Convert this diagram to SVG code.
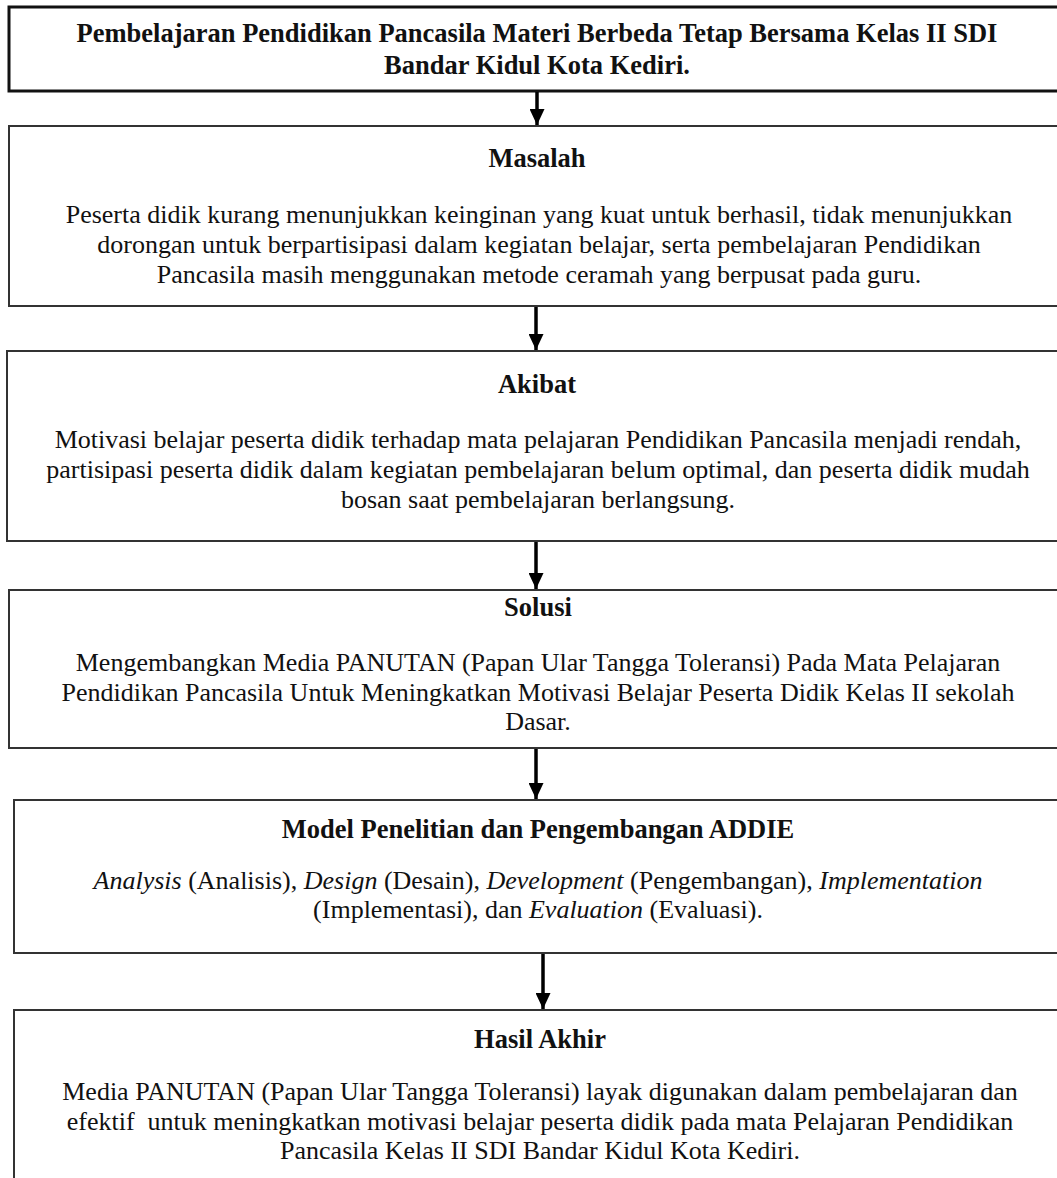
<svg xmlns="http://www.w3.org/2000/svg" width="1057" height="1178" viewBox="0 0 1057 1178">
<style>
.box{fill:#fff;stroke:#333;stroke-width:2}
.top{fill:#fff;stroke:#111;stroke-width:3}
.t{font-family:"Liberation Serif","Times New Roman",serif;font-size:26px;fill:#111;text-anchor:middle}
.b{font-weight:bold;font-size:26.5px}
.c{stroke:#000;stroke-width:3.5;fill:none}
</style>
<defs>
<marker id="ah" markerWidth="16" markerHeight="15" refX="16" refY="7.5" viewBox="0 0 16 15" markerUnits="userSpaceOnUse" orient="auto">
<path d="M0,0 L16,7.5 L0,15 Z" fill="#000"/>
</marker>
</defs>
<rect width="1057" height="1178" fill="#fff"/>
<g id="judul">
<rect class="top" x="9" y="7" width="1070" height="84"/>
<text class="t b" x="537" y="42">Pembelajaran Pendidikan Pancasila Materi Berbeda Tetap Bersama Kelas II SDI</text>
<text class="t b" x="537" y="74">Bandar Kidul Kota Kediri.</text>
</g>
<g id="masalah">
<rect class="box" x="9" y="126" width="1070" height="180"/>
<text class="t b" x="537" y="167">Masalah</text>
<text class="t" x="539" y="223">Peserta didik kurang menunjukkan keinginan yang kuat untuk berhasil, tidak menunjukkan</text>
<text class="t" x="539" y="253">dorongan untuk berpartisipasi dalam kegiatan belajar, serta pembelajaran Pendidikan</text>
<text class="t" x="539" y="283">Pancasila masih menggunakan metode ceramah yang berpusat pada guru.</text>
</g>
<g id="akibat">
<rect class="box" x="7" y="351" width="1070" height="190"/>
<text class="t b" x="537" y="393">Akibat</text>
<text class="t" x="538" y="448">Motivasi belajar peserta didik terhadap mata pelajaran Pendidikan Pancasila menjadi rendah,</text>
<text class="t" x="538" y="478">partisipasi peserta didik dalam kegiatan pembelajaran belum optimal, dan peserta didik mudah</text>
<text class="t" x="538" y="508">bosan saat pembelajaran berlangsung.</text>
</g>
<g id="solusi">
<rect class="box" x="9" y="590" width="1070" height="158"/>
<text class="t b" x="538" y="616">Solusi</text>
<text class="t" x="538" y="671">Mengembangkan Media PANUTAN (Papan Ular Tangga Toleransi) Pada Mata Pelajaran</text>
<text class="t" x="538" y="701">Pendidikan Pancasila Untuk Meningkatkan Motivasi Belajar Peserta Didik Kelas II sekolah</text>
<text class="t" x="538" y="730">Dasar.</text>
</g>
<g id="addie">
<rect class="box" x="14" y="800" width="1070" height="153"/>
<text class="t b" x="538" y="838">Model Penelitian dan Pengembangan ADDIE</text>
<text class="t" x="538" y="889"><tspan font-style="italic">Analysis</tspan> (Analisis), <tspan font-style="italic">Design</tspan> (Desain), <tspan font-style="italic">Development</tspan> (Pengembangan), <tspan font-style="italic">Implementation</tspan></text>
<text class="t" x="538" y="918">(Implementasi), dan <tspan font-style="italic">Evaluation</tspan> (Evaluasi).</text>
</g>
<g id="hasil">
<rect class="box" x="14" y="1010" width="1070" height="200"/>
<text class="t b" x="540" y="1048">Hasil Akhir</text>
<text class="t" x="540" y="1100">Media PANUTAN (Papan Ular Tangga Toleransi) layak digunakan dalam pembelajaran dan</text>
<text class="t" x="540" y="1130" style="white-space:pre">efektif  untuk meningkatkan motivasi belajar peserta didik pada mata Pelajaran Pendidikan</text>
<text class="t" x="540" y="1159">Pancasila Kelas II SDI Bandar Kidul Kota Kediri.</text>
</g>
<g id="connectors">
<line class="c" x1="537" y1="92" x2="537" y2="125" marker-end="url(#ah)"/>
<line class="c" x1="536" y1="307" x2="536" y2="350" marker-end="url(#ah)"/>
<line class="c" x1="536" y1="542" x2="536" y2="589" marker-end="url(#ah)"/>
<line class="c" x1="536" y1="749" x2="536" y2="799" marker-end="url(#ah)"/>
<line class="c" x1="543" y1="954" x2="543" y2="1009" marker-end="url(#ah)"/>
</g>
</svg>
